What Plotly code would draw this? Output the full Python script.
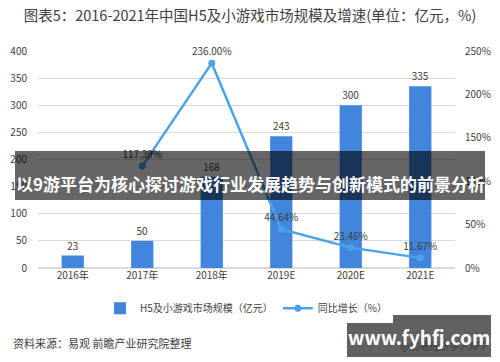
import plotly.graph_objects as go

categories = ["2016年", "2017年", "2018年", "2019E", "2020E", "2021E"]
market_size = [23, 50, 168, 243, 300, 335]
growth = [None, 117.39, 236.00, 44.64, 23.46, 11.67]
left_ticks = [0, 50, 100, 150, 200, 250, 300, 350, 400]
right_ticks = [0, 50, 100, 150, 200, 250]
right_labels = ["0%", "50%", "100%", "150%", "200%", "250%"]

FONT = "Noto Sans CJK SC"
BAR_C = "#4285DC"
LINE_C = "#4BA3E6"

fig = go.Figure()
fig.add_trace(go.Bar(
    x=categories, y=market_size, name="H5及小游戏市场规模（亿元）",
    marker=dict(color=BAR_C, line=dict(width=0)),
    text=market_size, textposition="outside", cliponaxis=False,
    textfont=dict(size=10, color="#404040", family=FONT),
    yaxis="y",
))
fig.add_trace(go.Scatter(
    x=categories, y=growth, name="同比增长（%）", yaxis="y2",
    mode="lines+markers+text",
    line=dict(color=LINE_C, width=2.5),
    marker=dict(color=LINE_C, size=7),
    texttemplate="%{y:.2f}%", textposition="top center",
    textfont=dict(size=10, color="#404040", family=FONT),
    cliponaxis=False,
))

fig.update_layout(
    width=500, height=362,
    margin=dict(l=38, r=45, t=51, b=94, autoexpand=False),
    paper_bgcolor="white", plot_bgcolor="white",
    font=dict(family=FONT, size=10, color="#595959"),
    bargap=0.68,
    showlegend=True,
    legend=dict(orientation="h", x=0.5, xanchor="center", y=-0.185, yanchor="middle",
                font=dict(size=10, color="#404040", family=FONT), itemwidth=30),
    title=dict(text="图表5：2016-2021年中国H5及小游戏市场规模及增速(单位：亿元，%)",
               x=0.5, xanchor="center", y=1 - 16 / 362, yanchor="middle",
               font=dict(size=14.5, color="#404040", family=FONT)),
    xaxis=dict(showgrid=False, showline=False, ticks="", automargin=False,
               tickfont=dict(size=10, color="#404040")),
    yaxis=dict(range=[0, 400], tickvals=left_ticks, showgrid=True, gridcolor="#D9D9D9",
               zeroline=True, zerolinecolor="#D9D9D9", ticklabelstandoff=10, automargin=False,
               tickfont=dict(size=10, color="#404040")),
    yaxis2=dict(range=[0, 250], tickvals=right_ticks, ticktext=right_labels, overlaying="y",
                side="right", showgrid=False, zeroline=False, ticklabelstandoff=9,
                automargin=False, tickfont=dict(size=10, color="#404040")),
)

# source line
fig.add_annotation(xref="paper", yref="paper", x=(11 - 38) / 417, y=(268 - 343) / 217,
                   xanchor="left", yanchor="middle", showarrow=False,
                   text="资料来源：易观 前瞻产业研究院整理",
                   font=dict(size=11, color="#404040", family=FONT))
fig.add_annotation(xref="paper", yref="paper", x=(490 - 38) / 417, y=(268 - 345) / 217,
                   xanchor="right", yanchor="middle", showarrow=False,
                   text="@前瞻经济学人APP",
                   font=dict(size=10, color="#404040", family=FONT))

# overlay banner
fig.add_shape(type="rect", xref="paper", yref="paper",
              x0=(15 - 38) / 417, x1=(485 - 38) / 417,
              y0=(268 - 200) / 217, y1=(268 - 151) / 217,
              fillcolor="rgba(0,0,0,0.6)", line=dict(width=0), layer="above")
fig.add_annotation(xref="paper", yref="paper", x=(14 - 38) / 417, y=(268 - 183) / 217,
                   xanchor="left", yanchor="middle", showarrow=False,
                   text="<b>以9游平台为核心探讨游戏行业发展趋势与创新模式的前景分析</b>",
                   font=dict(size=17, color="white", family=FONT))

# site box
fig.add_shape(type="rect", xref="paper", yref="paper",
              x0=(347 - 38) / 417, x1=(491 - 38) / 417,
              y0=(268 - 357) / 217, y1=(268 - 315) / 217,
              fillcolor="rgba(0,0,0,0.62)", line=dict(width=0), layer="above")
fig.add_annotation(xref="paper", yref="paper", x=(419 - 38) / 417, y=(268 - 336) / 217,
                   xanchor="center", yanchor="middle", showarrow=False,
                   text="<b>www.fyhfj.com</b>",
                   font=dict(size=19, color="white", family=FONT))

fig.write_html("out.html", config={"displayModeBar": False},
               post_script="document.body.style.margin='0';")
